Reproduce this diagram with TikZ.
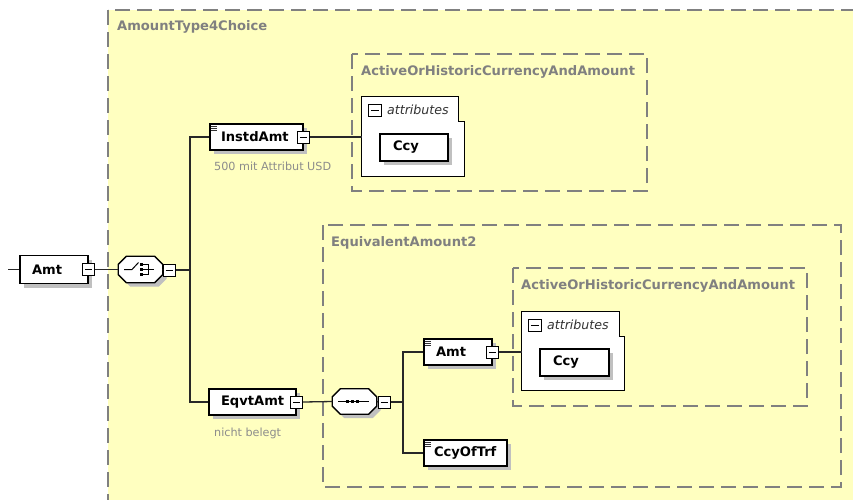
\documentclass[tikz,border=0pt]{standalone}
\usepackage{fontspec}
\setmainfont{DejaVu Sans}
\usetikzlibrary{shadows}
\definecolor{bgyellow}{RGB}{255,255,192}
\definecolor{dashgray}{RGB}{128,128,128}
\definecolor{shadowgray}{RGB}{192,192,192}
\definecolor{annogray}{RGB}{140,140,140}
\definecolor{linecol}{RGB}{40,40,40}
\tikzset{
  myshadow/.style={drop shadow={shadow xshift=4pt, shadow yshift=-4pt, fill=shadowgray, opacity=1}},
  elem/.style={draw=black, line width=1.3pt, fill=white, myshadow, rectangle,
    inner ysep=0pt, minimum height=26pt, text width=#1, align=left,
    font=\fontsize{13.1}{15}\selectfont\bfseries},
  minusbtn/.style={draw=black, line width=0.9pt, fill=white, minimum width=12pt,
    minimum height=12pt, inner sep=0pt,
    path picture={\draw[line width=0.9pt] ([xshift=2.2pt]path picture bounding box.west) -- ([xshift=-2.2pt]path picture bounding box.east);}},
  dashbox/.style={draw=dashgray, line width=1.3pt, dash pattern=on 15pt off 7pt, fill=bgyellow},
  boxtitle/.style={anchor=west, inner sep=0pt, text=dashgray, font=\fontsize{13.1}{15}\selectfont\bfseries},
  anno/.style={anchor=west, inner sep=0pt, text=annogray, font=\fontsize{11.2}{13}\selectfont},
  attrtext/.style={anchor=west, inner sep=0pt, text=black!80, font=\fontsize{12.6}{14}\selectfont\itshape},
  conn/.style={draw=linecol, line width=1.3pt},
  attrbox/.style={draw=black, line width=1.3pt, fill=white},
  compbox/.style={rectangle, inner sep=0pt},
  docline/.style={draw=black!80, line width=0.7pt},
  chamf/.style={insert path={([xshift=8pt]#1.north west) -- ([xshift=-8pt]#1.north east) -- ([yshift=-8pt]#1.north east) -- ([yshift=8pt]#1.south east) -- ([xshift=-8pt]#1.south east) -- ([xshift=8pt]#1.south west) -- ([yshift=8pt]#1.south west) -- ([yshift=-8pt]#1.north west) -- cycle}},
}
\begin{document}
\begin{tikzpicture}[x=1pt, y=-1pt]
\useasboundingbox (0,0) rectangle (853,499);
\begin{scope}
\clip (0,0) rectangle (853,499);
% outer container
\draw[dashbox] (108,10) rectangle (900,560);
\end{scope}
\node[boxtitle] (t0) at (117,27) {AmountType4Choice};

% inner dashed boxes
\draw[dashbox] (352,54) rectangle (647,191);
\node[boxtitle] (t1) at (361,72) {ActiveOrHistoricCurrencyAndAmount};
\draw[dashbox] (323,225) rectangle (841,487);
\node[boxtitle] (t2) at (331,243) {EquivalentAmount2};
\draw[dashbox] (513,268) rectangle (807,406);
\node[boxtitle] (t3) at (521,286) {ActiveOrHistoricCurrencyAndAmount};

% root element
\coordinate (lstart) at (8,269.5);
\node[elem=44pt, inner xsep=12pt, minimum height=28pt] (amt) at (54,269.5) {Amt};
\node[minusbtn] (amtm) at (amt.east) {};

% choice compositor
\node[compbox, minimum width=44pt, minimum height=26pt] (ch) at (140.5,269.5) {};
\fill[shadowgray, transform canvas={xshift=4pt, yshift=-4pt}, chamf=ch];
\draw[draw=black, line width=1.3pt, fill=white, chamf=ch];
\begin{scope}[shift={(ch.center)}]
  \draw[line width=1pt] (-16.5,0) -- (-8.5,0) -- (-2,-7);
  \fill (-0.5,-6.3) rectangle (2.2,-3.6);
  \fill (-0.5,-1.3) rectangle (2.2,1.4);
  \fill (-0.5,3.7) rectangle (2.2,6.4);
  \draw[line width=1pt] (2,-5) -- (7.5,-5) -- (7.5,5) -- (2,5);
  \draw[line width=1pt] (2,0) -- (13,0);
\end{scope}
\node[minusbtn] (chm) at (169.5,270) {};
\coordinate (bus) at (190,270);

% InstdAmt
\node[elem=71pt, inner xsep=11pt] (inst) at (256.5,137) {InstdAmt};
\node[minusbtn] (instm) at (inst.east) {};
\node[anno] (n1) at (214,166) {500 mit Attribut USD};

% attributes 1
\node[compbox, minimum width=102pt, minimum height=79pt] (attr1) at (413,136.5) {};
\draw[attrbox] (attr1.north west) -- ([xshift=-6pt]attr1.north east) -- ([xshift=-6pt,yshift=-25pt]attr1.north east) -- ([yshift=-25pt]attr1.north east) -- (attr1.south east) -- (attr1.south west) -- cycle;
\node[minusbtn, minimum width=12.5pt, minimum height=12.5pt] (attr1m) at (375,110.5) {};
\node[attrtext] (a1t) at (387,110) {attributes};
\node[elem=42pt, inner xsep=13pt, minimum height=27pt] (ccy1) at (414,147.5) {Ccy};

% EqvtAmt
\node[elem=63pt, inner xsep=12pt] (eqvt) at (252.5,402) {EqvtAmt};
\node[minusbtn] (eqvtm) at (eqvt.east) {};
\node[anno] (n2) at (214,433) {nicht belegt};

% sequence compositor
\node[compbox, minimum width=44pt, minimum height=25pt] (sq) at (354.5,401.5) {};
\fill[shadowgray, transform canvas={xshift=4pt, yshift=-4pt}, chamf=sq];
\draw[draw=black, line width=1.3pt, fill=white, chamf=sq];
\begin{scope}[shift={(sq.center)}]
  \draw[line width=1pt] (-16.5,0) -- (14.5,0);
  \foreach \px in {-6.8,-1.8,3.2} \fill (\px-1.6,-1.6) rectangle (\px+1.6,1.6);
\end{scope}
\node[minusbtn] (sqm) at (384.5,402) {};
\coordinate (bus2) at (403,402);

% inner Amt
\node[elem=44pt, inner xsep=12pt] (amt2) at (458,352) {Amt};
\node[minusbtn] (amt2m) at (amt2.east) {};
% CcyOfTrf
\node[elem=63pt, inner xsep=10pt] (cot) at (465.5,453) {CcyOfTrf};

% attributes 2
\node[compbox, minimum width=102pt, minimum height=78pt] (attr2) at (573,351) {};
\draw[attrbox] (attr2.north west) -- ([xshift=-5pt]attr2.north east) -- ([xshift=-5pt,yshift=-25pt]attr2.north east) -- ([yshift=-25pt]attr2.north east) -- (attr2.south east) -- (attr2.south west) -- cycle;
\node[minusbtn, minimum width=12.5pt, minimum height=12.5pt] (attr2m) at (535,325.5) {};
\node[attrtext] (a2t) at (547,325) {attributes};
\node[elem=43pt, inner xsep=13pt, minimum height=27pt] (ccy2) at (574.5,362.5) {Ccy};

% documentation marks
\foreach \n in {inst,amt2,cot}{
  \foreach \d in {2.5,4.5,6.5}
    \draw[docline] ([shift={(1.8pt,-\d pt)}]\n.north west) -- ++(6,0);
}

% connectors
\draw[conn] (lstart) -- (amt.west);
\draw[conn] (amtm.east) -- (ch.west);
\draw[conn] (ch.east) -- (chm.west);
\draw[conn] (chm.east) -- (bus);
\draw[conn] (inst.west) -| (bus) |- (eqvt.west);
\draw[conn] (instm.east) -- (instm.east -| attr1.west);
\draw[conn] (eqvtm.east) -- (sq.west);
\draw[conn] (sq.east) -- (sqm.west);
\draw[conn] (sqm.east) -- (bus2);
\draw[conn] (amt2.west) -| (bus2) |- (cot.west);
\draw[conn] (amt2m.east) -- (amt2m.east -| attr2.west);
\end{tikzpicture}
\end{document}
